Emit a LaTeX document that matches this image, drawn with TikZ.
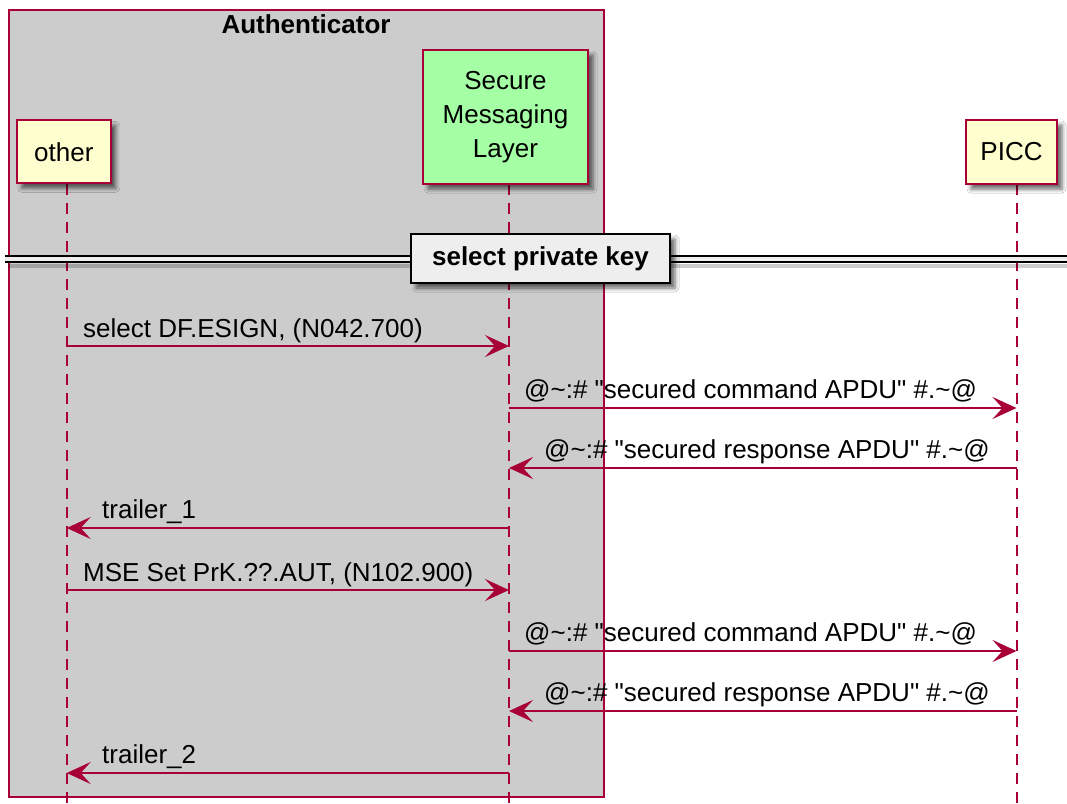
\documentclass[tikz,border=0pt]{standalone}
\usepackage{fontspec}
\setmainfont[Ligatures=TeXOff]{Liberation Sans}
\usetikzlibrary{arrows.meta,shadows.blur}
\definecolor{pborder}{HTML}{A80036}
\definecolor{pfill}{HTML}{FEFECE}
\definecolor{smlfill}{HTML}{A5FFA5}
\definecolor{boxfill}{HTML}{CCCCCC}
\definecolor{divfill}{HTML}{EEEEEE}
\tikzset{
  pshadow/.style={blur shadow={shadow xshift=5pt,shadow yshift=-5pt,shadow blur radius=4pt,shadow opacity=60}},
  participant/.style={draw=pborder, line width=2pt, fill=pfill, inner sep=0pt, align=center, pshadow},
  lifeline/.style={draw=pborder, line width=2pt, dash pattern=on 11pt off 8pt},
  msg/.style={draw=pborder, line width=1.6pt, -{Stealth[length=24pt,width=22pt,inset=10pt]}},
  lbl/.style={anchor=base west, inner sep=0pt},
}
\begin{document}
\begin{tikzpicture}[x=1pt,y=-1pt,font=\fontsize{26}{34}\selectfont]
\useasboundingbox (0,0) rectangle (1067,803);
\fill[white] (0,0) rectangle (1067,803);

% Authenticator box
\node[draw=pborder, line width=1.5pt, fill=boxfill, minimum width=595pt, minimum height=787pt, inner sep=0pt] (auth) at (306.5,403.5) {};
\node[font=\fontsize{26}{30}\selectfont\bfseries, anchor=base] (title) at (306,33) {Authenticator};

% lifeline coordinates
\coordinate (oTop) at (66.7,184);
\coordinate (oBot) at (66.7,803);
\coordinate (sTop) at (509,184);
\coordinate (sBot) at (509,803);
\coordinate (pTop) at (1016.5,184);
\coordinate (pBot) at (1016.5,803);

% lifelines
\draw[lifeline] (oTop) -- (oBot);
\draw[lifeline] (sTop) -- (sBot);
\draw[lifeline] (pTop) -- (pBot);

% participants
\node[participant, minimum width=94pt, minimum height=63pt] (other) at (63.8,151.8) {other};
\node[participant, fill=smlfill, minimum width=165pt, minimum height=134pt] (sml) at (505.5,117) {Secure\\Messaging\\Layer};
\node[participant, minimum width=91pt, minimum height=64pt] (picc) at (1011.5,152) {PICC};

% divider
\coordinate (dL) at (5,259);
\coordinate (dR) at (1067,259);
\fill[black, opacity=0.2] (8,264) rectangle (1067,268);
\fill[divfill] (5,256) rectangle (1067,262);
\draw[black, line width=1.8pt] ([yshift=3pt]dL) -- ([yshift=3pt]dR);
\draw[black, line width=1.8pt] ([yshift=-3pt]dL) -- ([yshift=-3pt]dR);
\node[draw=black, line width=2.2pt, fill=divfill, minimum width=259pt, minimum height=49pt, inner sep=0pt,
      font=\fontsize{26}{30}\selectfont\bfseries, pshadow] (div) at (540.5,258.5) {select private key};

% message end points
\coordinate (m1a) at (66.7,346);  \coordinate (m1b) at (509,346);
\coordinate (m2a) at (509,408);   \coordinate (m2b) at (1016.5,408);
\coordinate (m3a) at (1016.5,468);\coordinate (m3b) at (509,468);
\coordinate (m4a) at (509,528);   \coordinate (m4b) at (66.7,528);
\coordinate (m5a) at (66.7,590);  \coordinate (m5b) at (509,590);
\coordinate (m6a) at (509,651);   \coordinate (m6b) at (1016.5,651);
\coordinate (m7a) at (1016.5,711);\coordinate (m7b) at (509,711);
\coordinate (m8a) at (509,773);   \coordinate (m8b) at (66.7,773);

\draw[msg] (m1a) -- (m1b);
\draw[msg] (m2a) -- (m2b);
\draw[msg] (m3a) -- (m3b);
\draw[msg] (m4a) -- (m4b);
\draw[msg] (m5a) -- (m5b);
\draw[msg] (m6a) -- (m6b);
\draw[msg] (m7a) -- (m7b);
\draw[msg] (m8a) -- (m8b);

% labels
\node[lbl] (l1) at (83,337) {select DF.ESIGN, (N042.700)};
\node[lbl] (l2) at (524,398) {@\textasciitilde:\# "secured command APDU" \#.\textasciitilde@};
\node[lbl] (l3) at (544,458) {@\textasciitilde:\# "secured response APDU" \#.\textasciitilde@};
\node[lbl] (l4) at (102,518) {trailer\_1};
\node[lbl] (l5) at (83,581) {MSE Set PrK.??.AUT, (N102.900)};
\node[lbl] (l6) at (524,641) {@\textasciitilde:\# "secured command APDU" \#.\textasciitilde@};
\node[lbl] (l7) at (544,701) {@\textasciitilde:\# "secured response APDU" \#.\textasciitilde@};
\node[lbl] (l8) at (102,763) {trailer\_2};
\end{tikzpicture}
\end{document}
